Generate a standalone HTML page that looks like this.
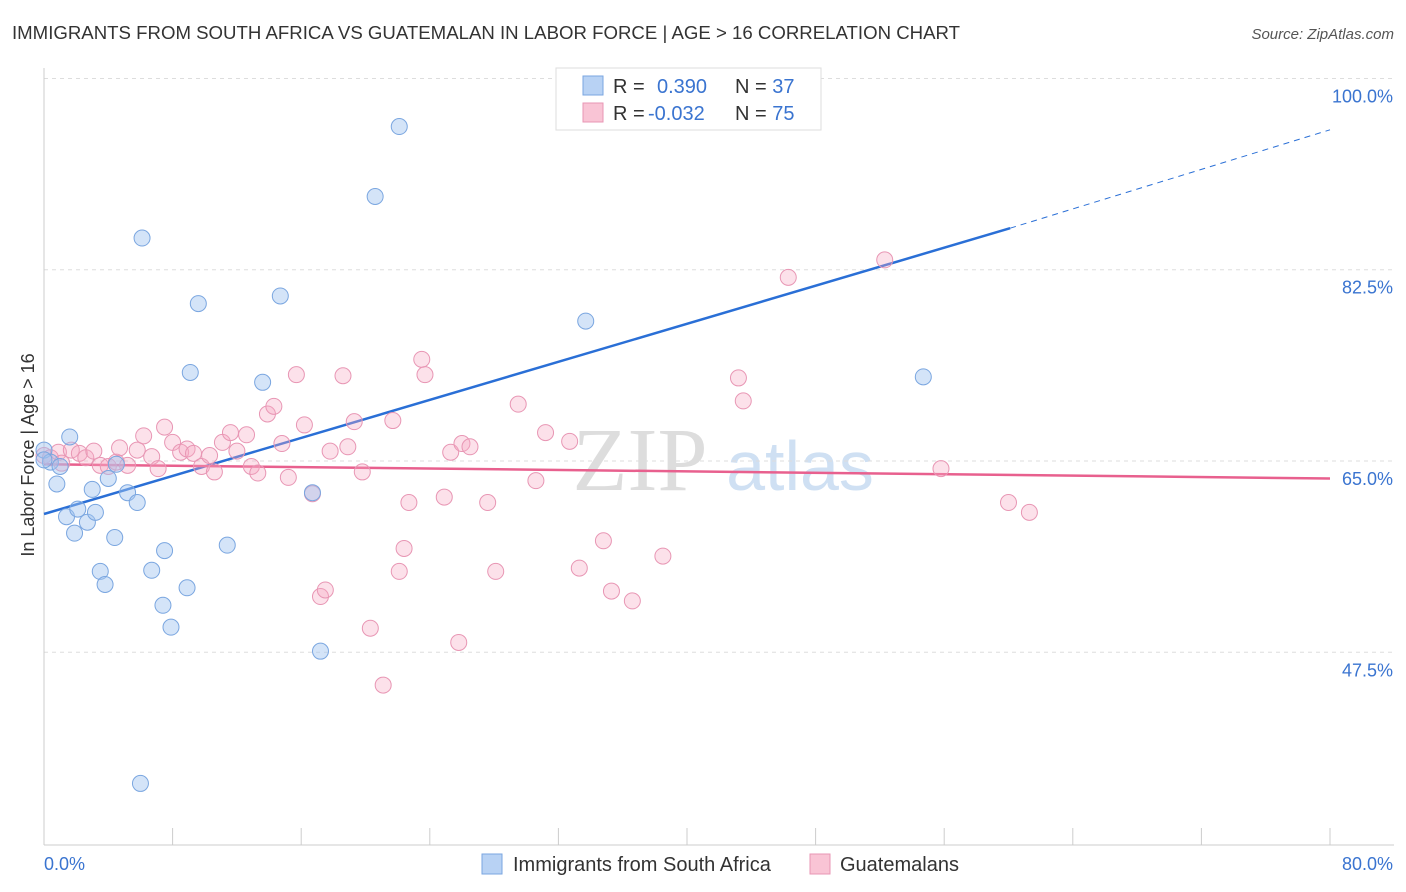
<!DOCTYPE html>
<html><head><meta charset="utf-8"><style>
body{margin:0;background:#fff;font-family:"Liberation Sans",sans-serif;}
svg{display:block}
</style></head><body>
<svg id="chart" width="1406" height="892">
<text x="12" y="39" font-size="18" fill="#333" textLength="948" lengthAdjust="spacingAndGlyphs">IMMIGRANTS FROM SOUTH AFRICA VS GUATEMALAN IN LABOR FORCE | AGE &gt; 16 CORRELATION CHART</text>
<text x="1394" y="39" font-size="15" fill="#555" font-style="italic" text-anchor="end">Source: ZipAtlas.com</text>
<text x="640" y="490" font-size="90" fill="#ddd" font-family="Liberation Serif" text-anchor="middle">ZIP</text>
<text x="800" y="490" font-size="70" fill="#cfe0f3" text-anchor="middle">atlas</text>
<g id="grid"></g><g id="axes"></g><g id="lines"></g><g id="pts"></g>
<text x="34" y="455" font-size="18" fill="#333" text-anchor="middle" transform="rotate(-90 34 455)">In Labor Force | Age &gt; 16</text>
<g>
<rect x="556" y="68" width="265" height="62" fill="#fff" stroke="#ddd"/>
<rect x="583" y="76" width="20" height="19" fill="#b8d2f4" stroke="#7aa6e0"/>
<rect x="583" y="103" width="20" height="19" fill="#f9c4d5" stroke="#e896b4"/>
<text x="613" y="93" font-size="20" fill="#333">R = <tspan fill="#3a74d0" x="657">0.390</tspan><tspan fill="#333" x="735">N = </tspan><tspan fill="#3a74d0">37</tspan></text>
<text x="613" y="120" font-size="20" fill="#333">R = <tspan fill="#3a74d0" x="648">-0.032</tspan><tspan fill="#333" x="735">N = </tspan><tspan fill="#3a74d0">75</tspan></text>
</g>
<g>
<rect x="482" y="854" width="20" height="20" fill="#b8d2f4" stroke="#7aa6e0"/>
<text x="513" y="871" font-size="20" fill="#333">Immigrants from South Africa</text>
<rect x="810" y="854" width="20" height="20" fill="#f9c4d5" stroke="#e896b4"/>
<text x="840" y="871" font-size="20" fill="#333">Guatemalans</text>
</g>
</svg>
<script>
const blueX=[0,0.4,0.8,1.0,1.6,1.4,1.9,2.1,2.7,3.0,3.2,3.5,3.8,4.0,4.4,4.5,5.2,5.8,6.1,6.7,7.4,7.5,7.9,8.9,9.1,9.6,11.4,13.6,14.7,16.7,17.2,20.6,22.1,33.7,54.7,6.0,0];
const blueY=[66.0,64.9,62.9,64.5,67.2,59.9,58.4,60.6,59.4,62.4,60.3,54.9,53.7,63.4,58.0,64.7,62.1,61.2,85.4,55.0,51.8,56.8,49.8,53.4,73.1,79.4,57.3,72.2,80.1,62.1,47.6,89.2,95.6,77.8,72.7,35.5,65.1];
const pinkX=[0,.4,.9,1.1,1.7,2.2,2.6,3.1,3.5,4.0,4.5,4.7,5.2,5.8,6.2,6.7,7.1,7.5,8.0,8.5,8.9,9.3,9.8,10.3,10.6,11.1,11.6,12.0,12.6,12.9,13.3,13.9,14.3,14.8,15.2,15.7,16.2,16.7,17.2,17.5,17.8,18.6,18.9,19.3,19.8,20.3,21.1,21.7,22.1,22.4,22.7,23.5,23.7,24.9,25.3,25.8,26.0,26.5,27.6,28.1,29.5,30.6,31.2,32.7,33.3,34.8,35.3,36.6,38.5,43.2,43.5,46.3,52.3,55.8,60.0,61.3];
const pinkY=[65.5,65.3,65.8,64.8,66.0,65.7,65.3,65.9,64.6,64.5,64.9,66.2,64.6,66.0,67.3,65.4,64.3,68.1,66.7,65.8,66.1,65.7,64.5,65.5,64.0,66.7,67.6,65.9,67.4,64.5,63.9,69.3,70.0,66.6,63.5,72.9,68.3,62.0,52.6,53.2,65.9,72.8,66.3,68.6,64.0,49.7,44.5,68.7,54.9,57.0,61.2,74.3,72.9,61.7,65.8,48.4,66.6,66.3,61.2,54.9,70.2,63.2,67.6,66.8,55.2,57.7,53.1,52.2,56.3,72.6,70.5,81.8,83.4,64.3,61.2,60.3];
const yTicks=[100,82.5,65,47.5];
const xTickVals=[0,8,16,24,32,40,48,56,64,72,80];
const blueLine=[[0,60.15],[60.1,86.3],[80,95.3]];
const pinkLine=[[0,64.7],[80,63.4]];
const NS='http://www.w3.org/2000/svg';
const sx=v=>44+v*16.075, sy=v=>461-(v-65)*10.93;
function mk(t,a,p){const e=document.createElementNS(NS,t);for(const k in a)e.setAttribute(k,a[k]);document.getElementById(p).appendChild(e);return e;}
yTicks.forEach(v=>{
 const l=mk('line',{x1:44,x2:1394,y1:sy(v),y2:sy(v),stroke:'#ddd','stroke-dasharray':'4,4'},'grid');
 
 
 const t=mk('text',{x:1393,y:sy(v)+24,'font-size':18,fill:'#3a74d0','text-anchor':'end'},'axes');t.textContent=v.toFixed(1)+'%';
 
 
});
mk('line',{x1:44,x2:44,y1:68,y2:845,stroke:'#ccc'},'axes');
mk('line',{x1:44,x2:1394,y1:845,y2:845,stroke:'#ccc'},'axes');
xTickVals.forEach(v=>{const l=mk('line',{x1:sx(v),x2:sx(v),y1:828,y2:845,stroke:'#ccc'},'axes');
 
 });
[[0,'start','0.0%'],[80,'end','80.0%']].forEach(([v,a,s])=>{const t=mk('text',{x:sx(v)+(a=='end'?63:0),y:870,'font-size':18,fill:'#3a74d0','text-anchor':a},'axes');t.textContent=s;
 
 });
pinkX.forEach((x,i)=>{const c=mk('circle',{cx:sx(x),cy:sy(pinkY[i]),r:8,fill:'rgba(245,170,195,0.35)',stroke:'#e896b4','stroke-width':1},'pts');
 
 });
blueX.forEach((x,i)=>{const c=mk('circle',{cx:sx(x),cy:sy(blueY[i]),r:8,fill:'rgba(160,196,240,0.45)',stroke:'#7aa6e0','stroke-width':1},'pts');
 
 });
let b=mk('line',{x1:sx(blueLine[0][0]),y1:sy(blueLine[0][1]),x2:sx(blueLine[1][0]),y2:sy(blueLine[1][1]),stroke:'#2a6fd6','stroke-width':2.5},'lines');


let bd=mk('line',{x1:sx(blueLine[1][0]),y1:sy(blueLine[1][1]),x2:sx(blueLine[2][0]),y2:sy(blueLine[2][1]),stroke:'#2a6fd6','stroke-width':1,'stroke-dasharray':'6,5'},'lines');


let p=mk('line',{x1:sx(pinkLine[0][0]),y1:sy(pinkLine[0][1]),x2:sx(pinkLine[1][0]),y2:sy(pinkLine[1][1]),stroke:'#e8608e','stroke-width':2.5},'lines');


</script>
</body></html>
